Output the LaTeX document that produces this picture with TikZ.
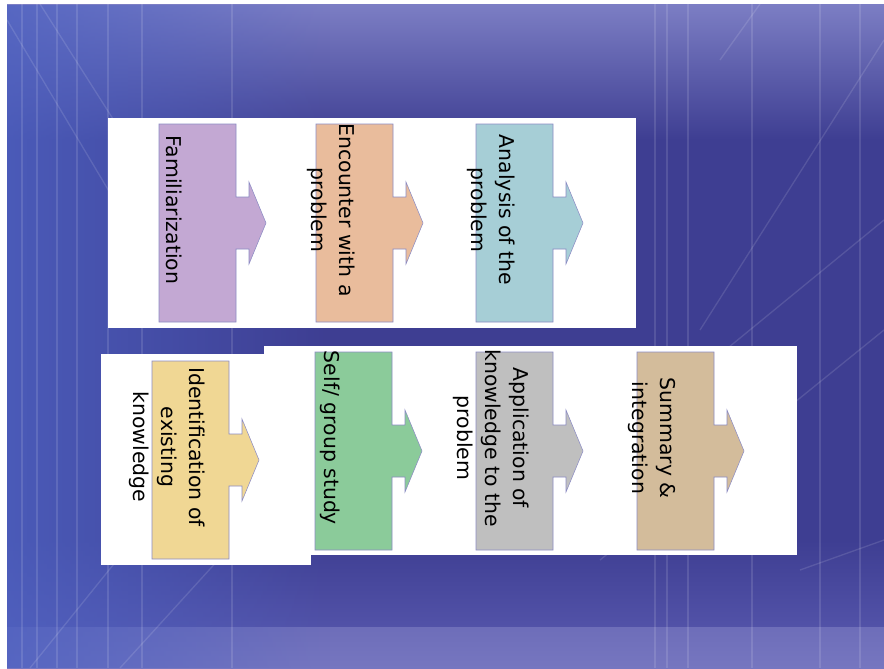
\documentclass[tikz,border=0pt]{standalone}
\usepackage{fontspec}
\setmainfont{DejaVu Sans}
\usetikzlibrary{fadings}

\definecolor{famcol}{HTML}{C3A8D3}
\definecolor{enccol}{HTML}{E9BC9C}
\definecolor{anacol}{HTML}{A6CED6}
\definecolor{idecol}{HTML}{F0D794}
\definecolor{slfcol}{HTML}{8BCB9A}
\definecolor{appcol}{HTML}{BFBFBF}
\definecolor{sumcol}{HTML}{D3BC9B}
\definecolor{edgecol}{HTML}{8C8CC4}
\definecolor{bgtop}{HTML}{7C7EC4}
\definecolor{bgmid}{HTML}{3E3E92}
\definecolor{bglow}{HTML}{5252A8}
\definecolor{bgbot}{HTML}{7676C0}
\definecolor{bgleft}{HTML}{4E62C2}

\begin{document}
\begin{tikzpicture}[x=0.75pt,y=-0.75pt,
        steptext/.style={rotate=-90,align=center,inner sep=0pt,
            font=\fontsize{15.3}{21}\selectfont},
        boxline/.style={draw=edgecol,line width=0.4pt},
        streak/.style={white,opacity=0.12,line width=1pt}]
        \useasboundingbox (0,0) rectangle (884,668);
        \fill[white] (0,0) rectangle (884,668);
        
        % background
        \fill[bgmid] (7,4) rectangle (884,668);
        \shade[top color=bgtop, bottom color=bgmid] (7,4) rectangle (884,140);
        \shade[top color=bgmid, bottom color=bglow] (7,540) rectangle (884,627);
        \shade[top color=bgbot!85!bgmid, bottom color=bgbot] (7,627) rectangle (884,668);
        \fill[bgleft, path fading=east, opacity=0.8] (7,4) rectangle (330,668);
        
        \foreach \x in {22,37,57,77,108,142,232,655,667,688,752,820,860}
            \draw[streak] (\x,4) -- (\x,668);
        \draw[streak] (7,20) -- (150,260);
        \draw[streak] (40,4) -- (120,130);
        \draw[streak] (30,668) -- (230,420);
        \draw[streak] (120,668) -- (300,470);
        \draw[streak] (600,560) -- (884,330);
        \draw[streak] (640,420) -- (884,220);
        \draw[streak] (700,330) -- (884,40);
        \draw[streak] (720,60) -- (760,4);
        \draw[streak] (800,570) -- (884,540);
        
        % white panels
        \fill[white] (108,118) rectangle (636,328);
        \fill[white] (101,354) rectangle (311,565);
        \fill[white] (264,346) rectangle (797,555);
        
        % steps
        \foreach \nm/\x/\y/\col/\txt in {
            fam/159/124/famcol/{Familiarization},
            enc/316/124/enccol/{Encounter with a\\problem},
            ana/476/124/anacol/{Analysis of the\\problem},
            ide/152/361/idecol/{Identification of\\existing\\knowledge},
            slf/315/352/slfcol/{Self/ group study},
            app/476/352/appcol/{Application of\\knowledge to the\\problem},
            sum/637/352/sumcol/{Summary \&\\integration}}
        {
            \filldraw[boxline,fill=\col] (\x,\y) -- ++(77,0) -- ++(0,73) -- ++(13,0) -- ++(0,-15)
                -- ++(17,41) -- ++(-17,41) -- ++(0,-15) -- ++(-13,0) -- ++(0,73) -- ++(-77,0) -- cycle;
            \node[steptext] (\nm) at ({\x+15},{\y+86}) {\txt};
        }
    \end{tikzpicture}
\end{document}
